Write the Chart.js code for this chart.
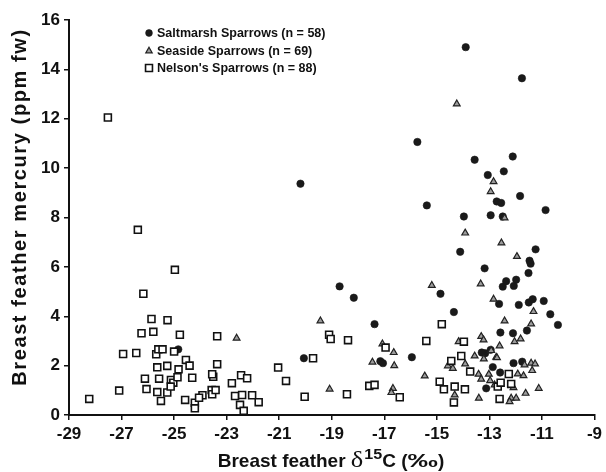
<!DOCTYPE html>
<html>
<head>
<meta charset="utf-8">
<script src="https://cdn.jsdelivr.net/npm/chart.js@4.4.1/dist/chart.umd.min.js"></script>
<style>
  html, body { margin: 0; padding: 0; background: #fff; }
  #wrap { width: 606px; height: 472px; }
</style>
</head>
<body>
<div id="wrap"><canvas id="c" width="606" height="472"></canvas></div>
<script>
(function () {
  // --- data (x = breast feather delta, y = Hg ppm fw) ---
  var saltX = [-24.84, -20.19, -15.38, -18.70, -18.16, -17.37, -20.06, -17.15, -17.05, -15.95,
               -14.86, -12.63, -14.35, -12.58, -12.95, -13.16, -12.87, -12.59, -13.12, -12.49,
               -12.07, -11.98, -11.88, -11.50, -11.35, -10.93, -10.68, -10.39, -11.57, -12.10,
               -12.08, -11.75, -15.74, -13.56, -12.11, -13.06, -12.45, -11.83, -12.72, -12.55,
               -10.86, -13.97, -12.95, -12.49, -14.11, -11.24, -11.47, -11.43, -13.18, -11.51,
               -12.36, -13.90, -11.76, -13.29];
  var saltY = [2.66, 9.37, 8.49, 5.21, 4.75, 3.68, 2.30, 2.18, 2.10, 2.34,
               4.91, 4.50, 4.17, 3.34, 2.64, 2.50, 1.94, 1.72, 1.08, 5.20,
               5.23, 5.48, 4.46, 4.56, 4.69, 4.62, 4.08, 3.65, 3.42, 3.31,
               2.10, 2.16, 11.06, 10.34, 10.47, 9.72, 9.87, 8.87, 8.65, 8.59,
               8.30, 8.04, 8.09, 8.04, 6.61, 6.71, 6.25, 6.13, 5.94, 5.75,
               5.42, 14.90, 13.64, 2.53];

  var seaX = [-22.62, -19.43, -17.07, -16.64, -17.45, -16.62, -15.46, -19.08, -16.67, -16.73,
              -15.19, -13.33, -12.84, -14.17, -13.31, -13.22, -13.21, -13.56, -12.74, -14.58,
              -14.39, -13.92, -13.41, -13.31, -13.02, -12.97, -14.32, -13.40, -12.80, -11.32,
              -12.42, -11.41, -12.04, -11.81, -12.61, -12.93, -12.71, -11.66, -11.41, -11.26,
              -11.37, -11.92, -11.70, -12.08, -11.12, -11.62, -12.17, -11.98, -12.23, -12.84,
              -12.95, -12.42, -13.92, -12.54, -11.95, -14.24];
  var seaY = [3.11, 3.81, 2.88, 2.53, 2.14, 2.00, 1.58, 1.05, 1.08, 0.91,
              5.25, 5.31, 4.69, 2.97, 3.18, 3.04, 2.27, 2.39, 2.34, 1.99,
              1.89, 2.07, 1.65, 1.45, 1.65, 1.39, 0.81, 0.68, 1.22, 4.19,
              3.81, 3.69, 2.97, 3.08, 2.80, 2.61, 2.32, 2.03, 2.10, 2.07,
              1.80, 1.66, 1.59, 1.11, 1.08, 0.88, 0.68, 0.68, 0.54, 9.45,
              9.05, 7.98, 7.37, 6.97, 6.42, 12.60];

  var nelX = [-24.97, -26.17, -25.86, -25.25, -26.24, -25.79, -24.78, -23.36, -26.94, -26.44,
              -25.68, -25.60, -25.44, -25.00, -24.55, -24.41, -24.83, -25.64, -25.26, -23.36,
              -26.11, -25.57, -25.12, -25.03, -24.87, -24.31, -23.51, -23.55, -27.09, -26.05,
              -25.64, -25.26, -25.13, -25.50, -28.23, -24.58, -24.21, -24.21, -23.92, -24.05,
              -23.57, -23.55, -23.42, -22.80, -22.45, -22.22, -22.68, -22.41, -22.49, -22.35,
              -22.03, -21.78, -21.04, -20.74, -27.52, -26.38, -19.10, -19.04, -18.38, -16.95,
              -15.40, -19.71, -20.03, -18.42, -17.57, -17.37, -16.41, -14.81, -13.97, -14.07,
              -14.45, -13.73, -14.89, -14.73, -14.32, -13.93, -14.35, -12.68, -12.61, -12.26,
              -12.57, -12.17];
  var nelY = [5.88, 4.91, 3.89, 3.84, 3.31, 3.37, 3.25, 3.19, 2.47, 2.51,
              2.46, 2.66, 2.66, 2.57, 2.23, 2.00, 1.85, 1.93, 1.99, 2.06,
              1.47, 1.47, 1.42, 1.31, 1.53, 1.51, 1.55, 1.65, 0.99, 1.05,
              0.93, 0.91, 1.15, 0.57, 0.65, 0.61, 0.50, 0.27, 0.80, 0.70,
              1.01, 0.84, 1.01, 1.29, 1.61, 1.49, 0.77, 0.81, 0.41, 0.17,
              0.80, 0.52, 1.92, 1.38, 12.05, 7.50, 3.25, 3.08, 3.03, 2.73,
              3.00, 2.30, 0.74, 0.84, 1.18, 1.22, 0.72, 3.68, 2.97, 2.39,
              2.19, 1.76, 1.35, 1.04, 1.15, 1.04, 0.51, 1.15, 0.65, 1.66,
              1.31, 1.26];

  var legendLabels = ['Saltmarsh Sparrows (n = 58)', 'Seaside Sparrows (n = 69)', "Nelson's Sparrows (n = 88)"];
  var xTicks = { min: -29, max: -9, step: 2 };
  var yTicks = { min: 0, max: 16, step: 2 };
  var yTitle = 'Breast feather mercury (ppm fw)';

  var FONT = '"Liberation Sans", Arial, Helvetica, sans-serif';
  var INK = '#111';

  function zip(xs, ys) {
    return xs.map(function (x, i) { return { x: x, y: ys[i] }; });
  }

  // marker styles (also reused by the legend)
  var styles = [
    { pointStyle: 'circle',   radius: 3.7, bg: '#1a1a1a', border: '#1a1a1a', bw: 0.6 },
    { pointStyle: 'triangle', radius: 3.9, bg: '#9c9c9c', border: '#222',    bw: 1.2 },
    { pointStyle: 'rect',     radius: 4.9, bg: '#ffffff', border: '#111',    bw: 1.6 }
  ];

  function ds(label, data, st, order) {
    return {
      label: label,
      data: data,
      order: order,
      showLine: false,
      pointStyle: st.pointStyle,
      pointRadius: st.radius,
      pointHoverRadius: st.radius,
      pointBackgroundColor: st.bg,
      pointBorderColor: st.border,
      pointBorderWidth: st.bw
    };
  }

  // titles + in-plot legend
  var decor = {
    id: 'decor',
    afterDraw: function (chart) {
      var ctx = chart.ctx;

      // y title, rotated
      ctx.save();
      ctx.fillStyle = INK;
      ctx.translate(26, 207);
      ctx.rotate(-Math.PI / 2);
      ctx.font = 'bold 20px ' + FONT;
      ctx.textAlign = 'center';
      ctx.textBaseline = 'alphabetic';
      if ('letterSpacing' in ctx) ctx.letterSpacing = '1.6px';
      ctx.fillText(yTitle, 0, 0);
      ctx.restore();

      // x title with superscript; sx stretches a piece sideways
      ctx.save();
      ctx.fillStyle = INK;
      ctx.textBaseline = 'alphabetic';
      ctx.textAlign = 'left';
      var parts = [
        { t: 'Breast feather ', f: 'bold 19px ' + FONT, dy: 0, sx: 1, gap: 0 },
        { t: '\u03b4', f: '23px "Liberation Serif", "Times New Roman", serif', dy: 0, sx: 1.15, gap: 1 },
        { t: '15', f: 'bold 14px ' + FONT, dy: -8, sx: 1.15, gap: 0 },
        { t: 'C (', f: 'bold 19px ' + FONT, dy: 0, sx: 1, gap: 0 },
        { t: '\u2030', f: 'bold 19px ' + FONT, dy: 0, sx: 1.6, gap: 0 },
        { t: ')', f: 'bold 19px ' + FONT, dy: 0, sx: 1, gap: 0 }
      ];
      var total = 0;
      parts.forEach(function (p) {
        ctx.font = p.f;
        p.w = ctx.measureText(p.t).width * p.sx + p.gap;
        total += p.w;
      });
      var x = 331 - total / 2, base = 467;
      parts.forEach(function (p) {
        ctx.font = p.f;
        ctx.save();
        ctx.translate(x, base + p.dy);
        ctx.scale(p.sx, 1);
        ctx.fillText(p.t, 0, 0);
        ctx.restore();
        x += p.w;
      });
      ctx.restore();

      // legend
      ctx.save();
      var ly = [33, 51, 68];
      for (var i = 0; i < 3; i++) {
        var st = styles[i], cx = 149, cy = ly[i];
        ctx.fillStyle = st.bg;
        ctx.strokeStyle = st.border;
        ctx.lineWidth = st.bw;
        ctx.beginPath();
        if (st.pointStyle === 'circle') {
          ctx.arc(cx, cy, 3.4, 0, Math.PI * 2);
        } else if (st.pointStyle === 'triangle') {
          var r = 3.7;
          ctx.moveTo(cx, cy - r);
          ctx.lineTo(cx + r * 0.866, cy + r * 0.5);
          ctx.lineTo(cx - r * 0.866, cy + r * 0.5);
          ctx.closePath();
        } else {
          var h = st.radius * Math.SQRT1_2;
          ctx.rect(cx - h, cy - h, 2 * h, 2 * h);
        }
        ctx.fill();
        ctx.stroke();
        ctx.fillStyle = INK;
        ctx.font = 'bold 12.5px ' + FONT;
        ctx.textBaseline = 'middle';
        ctx.fillText(legendLabels[i], 157, cy + 0.5);
      }
      ctx.restore();
    }
  };

  var tickFont = { family: FONT, size: 17, weight: 'bold' };
  function axis(lim, fit) {
    return {
      type: 'linear',
      min: lim.min,
      max: lim.max,
      ticks: { stepSize: lim.step, color: INK, font: tickFont, padding: 4, maxRotation: 0, autoSkip: false },
      grid: { drawOnChartArea: false, drawTicks: true, tickLength: 5, color: INK, lineWidth: 1.5 },
      border: { display: true, color: INK, width: 2 },
      afterFit: fit
    };
  }

  new Chart(document.getElementById('c'), {
    type: 'scatter',
    data: {
      datasets: [
        ds(legendLabels[0], zip(saltX, saltY), styles[0], 3),
        ds(legendLabels[1], zip(seaX, seaY), styles[1], 2),
        ds(legendLabels[2], zip(nelX, nelY), styles[2], 1)
      ]
    },
    options: {
      responsive: false,
      devicePixelRatio: 1,
      animation: false,
      layout: { padding: { top: 20, right: 8, left: 0, bottom: 0 } },
      plugins: { legend: { display: false }, tooltip: { enabled: false } },
      scales: {
        x: axis(xTicks, function (s) { s.height = 57; }),
        y: axis(yTicks, function (s) { s.width = 69; })
      }
    },
    plugins: [decor]
  });
})();
</script>
</body>
</html>
